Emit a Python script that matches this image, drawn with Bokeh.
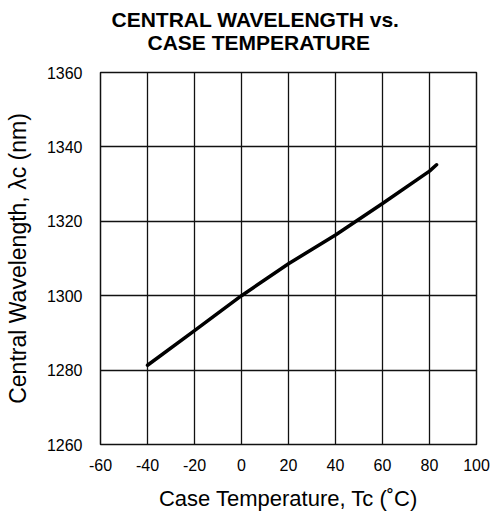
from bokeh.plotting import figure
from bokeh.models import FixedTicker, Title
from bokeh.embed import file_html
from bokeh.resources import INLINE

# Data
temp_c = [-40, -20, 0, 20, 40, 60, 80, 83]
wavelength_nm = [1281.3, 1290.6, 1300.0, 1308.6, 1316.3, 1324.8, 1333.5, 1335.2]

x_ticks = [-60, -40, -20, 0, 20, 40, 60, 80, 100]
y_ticks = [1260, 1280, 1300, 1320, 1340, 1360]

title_lines = ["CENTRAL WAVELENGTH vs.", "CASE TEMPERATURE"]
x_label = "Case Temperature, Tc (\u02daC)"
y_label = "Central Wavelength, \u03bbc (nm)"

FONT = "Liberation Sans"

p = figure(width=491, height=513, x_range=(-60, 100), y_range=(1260, 1360),
           output_backend="svg", toolbar_location=None,
           min_border_left=100, min_border_right=15, min_border_top=72, min_border_bottom=68)
p.title = None

p.line(temp_c, wavelength_nm, line_color="black", line_width=3.5, line_cap="round")

for ax in (p.xaxis[0], p.yaxis[0]):
    ax.axis_line_color = None
    ax.major_tick_line_color = None
    ax.minor_tick_line_color = None
    ax.major_label_text_font = FONT
    ax.major_label_text_font_size = "16px"
    ax.major_label_text_color = "black"
    ax.axis_label_text_font = FONT
    ax.axis_label_text_font_style = "normal"
    ax.axis_label_text_color = "black"

p.xaxis.axis_label_text_font_size = "22px"
p.yaxis.axis_label_text_font_size = "23px"

p.xaxis.ticker = FixedTicker(ticks=x_ticks)
p.yaxis.ticker = FixedTicker(ticks=y_ticks)
p.xaxis.major_label_overrides = {t: str(t) for t in x_ticks}
p.yaxis.major_label_overrides = {t: str(t) for t in y_ticks}
p.xaxis.axis_label = x_label
p.yaxis.axis_label = y_label
p.xaxis.major_label_standoff = 8
p.yaxis.major_label_standoff = 12
p.xaxis.axis_label_standoff = 12
p.yaxis.axis_label_standoff = 13

p.xgrid.ticker = FixedTicker(ticks=x_ticks)
p.ygrid.ticker = FixedTicker(ticks=y_ticks)
for g in (p.xgrid[0], p.ygrid[0]):
    g.grid_line_color = "#111111"
    g.grid_line_width = 1.3
    g.grid_line_alpha = 1.0

p.outline_line_color = "#111111"
p.outline_line_width = 1.5
p.background_fill_color = "white"
p.border_fill_color = "white"

# second line first: later "above" items stack further from the frame
p.add_layout(Title(text=title_lines[1], align="left", offset=47, standoff=38,
                   text_font=FONT, text_font_size="21px", text_font_style="bold",
                   text_color="black"), "above")
p.add_layout(Title(text=title_lines[0], align="left", offset=11, standoff=-42,
                   text_font=FONT, text_font_size="21px", text_font_style="bold",
                   text_color="black"), "above")

open("out.html", "w").write(file_html(p, INLINE))
